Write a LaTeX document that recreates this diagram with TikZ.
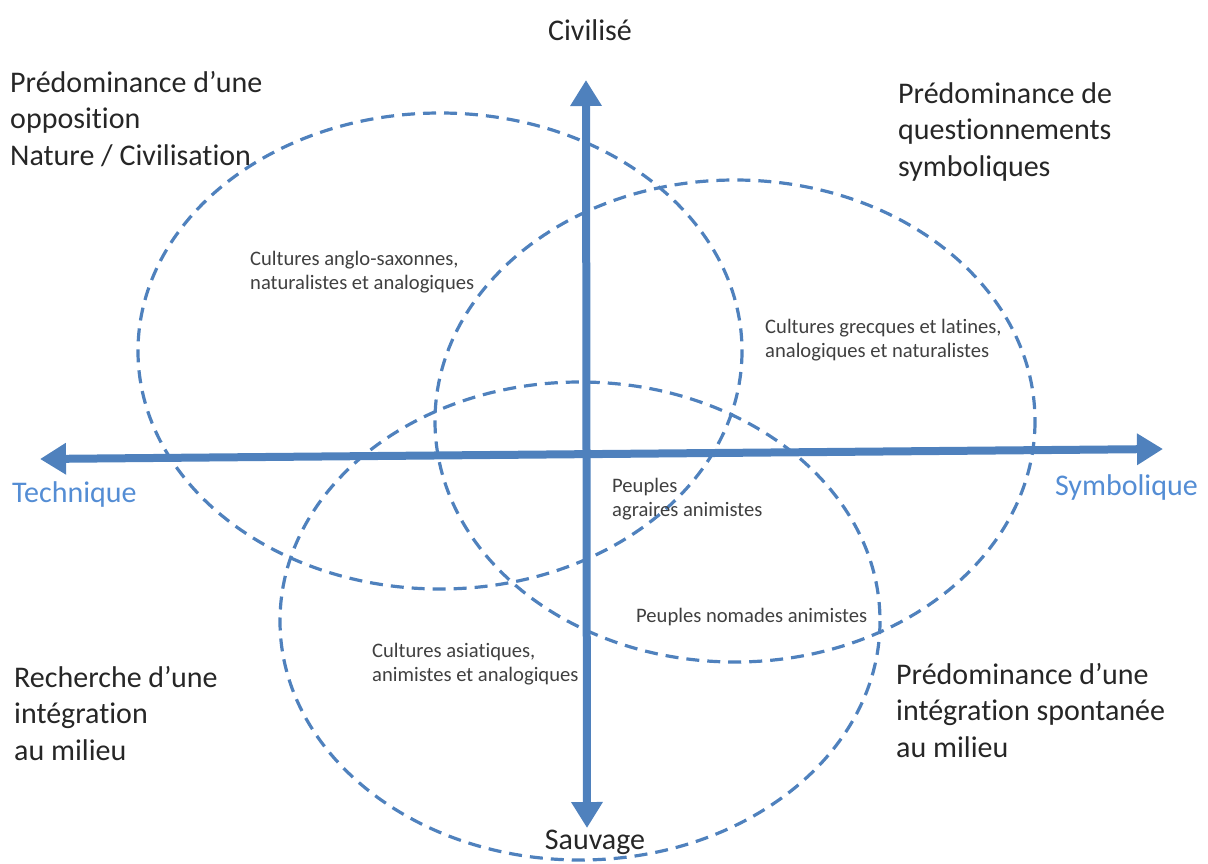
\documentclass[tikz,border=0pt]{standalone}
\usepackage{fontspec}
\setmainfont{Carlito}[Ligatures=NoCommon]
\usetikzlibrary{arrows.meta}
\definecolor{bleuaxe}{RGB}{79,129,189}
\definecolor{bleutexte}{RGB}{84,141,212}
\definecolor{grisfonce}{RGB}{64,64,64}

\begin{document}
\begin{tikzpicture}[x=1pt, y=-1pt,
    axe/.style={bleuaxe, line width=8pt,
        {Triangle[length=26pt,width=30pt]}-{Triangle[length=26pt,width=30pt]}},
    zone/.style={bleuaxe, line width=3.2pt, dash pattern=on 13pt off 8pt},
    titre/.style={inner sep=0pt, align=left, text=black!85,
        font=\fontsize{30}{36.5}\selectfont},
    petit/.style={inner sep=0pt, align=left, text=grisfonce,
        font=\fontsize{20.6}{23.5}\selectfont},
    pole/.style={inner sep=0pt, font=\fontsize{30}{36.5}\selectfont}]
    \useasboundingbox (0,0) rectangle (1208,863);

    % les trois zones
    \draw[zone] (440,351) ellipse [x radius=302, y radius=238];
    \draw[zone] (735,421) ellipse [x radius=300, y radius=241];
    \draw[zone] (580,621) ellipse [x radius=300, y radius=239];

    % axes
    \coordinate (tech) at (40,459);
    \coordinate (symb) at (1163,449);
    \coordinate (civ) at (586,80);
    \coordinate (sauv) at (587,828);
    \draw[axe] (tech) -- (symb);
    \draw[axe] (sauv) -- (civ);

    \node[pole, anchor=base, text=black!85] (civilise) at (590,40) {Civilisé};
    \node[pole, anchor=base, text=black!85] (sauvage) at (595,849) {Sauvage};
    \node[pole, anchor=base west, text=bleutexte] (technique) at (12,502) {Technique};
    \node[pole, anchor=base east, text=bleutexte] (symbolique) at (1198,495) {Symbolique};

    % quadrants (ancre sur la derniere ligne)
    \node[titre, anchor=base west] (opposition) at (10,165)
        {Prédominance d’une\\opposition\\Nature / Civilisation};
    \node[titre, anchor=base west] (questionnements) at (898,176)
        {Prédominance de\\questionnements\\symboliques};
    \node[titre, anchor=base west] (recherche) at (14,760)
        {Recherche d’une\\intégration\\au milieu};
    \node[titre, anchor=base west] (spontanee) at (896,757)
        {Prédominance d’une\\intégration spontanée\\au milieu};

    % cultures
    \node[petit, anchor=base west] (anglosaxonnes) at (250,289)
        {Cultures anglo-saxonnes,\\naturalistes et analogiques};
    \node[petit, anchor=base west] (grecques) at (765,357)
        {Cultures grecques et latines,\\analogiques et naturalistes};
    \node[petit, anchor=base west] (agraires) at (612,516)
        {Peuples\\agraires animistes};
    \node[petit, anchor=base west] (nomades) at (636,622)
        {Peuples nomades animistes};
    \node[petit, anchor=base west] (asiatiques) at (372,681)
        {Cultures asiatiques,\\animistes et analogiques};
\end{tikzpicture}
\end{document}
